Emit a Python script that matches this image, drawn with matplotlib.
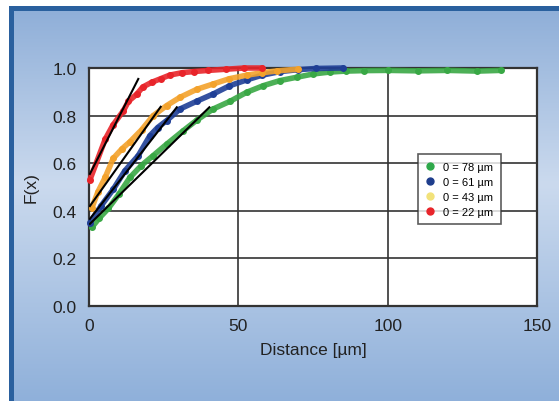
import numpy as np
import matplotlib
matplotlib.use("Agg")
import matplotlib.pyplot as plt
from matplotlib.lines import Line2D
from matplotlib.patches import Rectangle
from matplotlib.colors import LinearSegmentedColormap

plt.rcParams['font.family'] = ['Liberation Sans', 'DejaVu Sans']

# cumulative distributions
d_22 = [0.3, 5.4, 8.0, 11.5, 13.2, 16, 18, 21, 24, 27, 31, 35, 40, 46, 52, 58]
f_22 = [0.53, 0.70, 0.76, 0.82, 0.86, 0.89, 0.92, 0.94, 0.955, 0.97, 0.98, 0.985, 0.99, 0.995, 1.0, 1.0]

d_43 = [0.9, 3, 5.4, 8.1, 11, 13.7, 17.6, 21.5, 26, 30.5, 36, 41.6, 47, 52.8, 58, 63, 70]
f_43 = [0.41, 0.48, 0.54, 0.62, 0.66, 0.69, 0.74, 0.80, 0.842, 0.877, 0.91, 0.933, 0.955, 0.97, 0.98, 0.988, 0.995]

d_61 = [0.3, 4, 8.1, 12, 16.5, 20.4, 23, 26, 30.5, 36, 41.6, 47, 52.8, 58, 64, 70, 76, 85]
f_61 = [0.35, 0.42, 0.49, 0.568, 0.632, 0.716, 0.75, 0.779, 0.828, 0.86, 0.891, 0.925, 0.95, 0.97, 0.985, 0.993, 0.998, 1.0]

d_78 = [0.9, 3.5, 6.5, 10, 13.7, 17.5, 21.5, 26, 31.6, 36, 41.6, 47.2, 52.8, 58.4, 63.9,
        69.5, 75.1, 80.7, 86, 92, 100, 110, 120, 130, 138]
f_78 = [0.33, 0.37, 0.41, 0.47, 0.54, 0.59, 0.632, 0.68, 0.737, 0.78, 0.828, 0.86, 0.898, 0.926, 0.947,
        0.961, 0.975, 0.983, 0.987, 0.989, 0.99, 0.988, 0.99, 0.987, 0.99]

# black tangent lines: (x0, y0, x1, y1)
tangents = [
    (0.3, 0.555, 16.5, 0.954),
    (0.3, 0.42, 24.0, 0.837),
    (0.3, 0.366, 29.4, 0.835),
    (0.3, 0.345, 40.3, 0.835),
]

labels = ["0 = 78 µm", "0 = 61 µm", "0 = 43 µm", "0 = 22 µm"]
legend_colors = ["#2ea84a", "#1e3d8c", "#f2e27a", "#e8242a"]

W, H = 559, 402
fig = plt.figure(figsize=(W / 100, H / 100), dpi=100)
fig.patch.set_facecolor("white")

# background panel with gradient
bg = fig.add_axes([0, 0, 1, 1], zorder=-5)
bg.axis("off")
cmap = LinearSegmentedColormap.from_list("bgc", [(0, "#8eaed8"), (0.45, "#cbdaee"), (1, "#8fb0da")])
grad = np.linspace(0, 1, 256).reshape(-1, 1)
bg.imshow(grad, cmap=cmap, extent=(9, W, H, 7), aspect="auto")
bg.add_patch(Rectangle((9, 7), W - 9, 4.5, color="#2a609e", lw=0))
bg.add_patch(Rectangle((9, 7), 5, H - 7, color="#2a609e", lw=0))
bg.set_xlim(0, W)
bg.set_ylim(H, 0)

ax = fig.add_axes([89 / W, (H - 307) / H, 448 / W, 238 / H])
ax.set_facecolor("white")
ax.set_xlim(0, 150)
ax.set_ylim(0, 1.0)
ax.set_xticks([0, 50, 100, 150])
ax.set_yticks([0, 0.2, 0.4, 0.6, 0.8, 1.0])
ax.set_yticklabels(["0.0", "0.2", "0.4", "0.6", "0.8", "1.0"])
ax.grid(True, color="#333333", lw=1.2)
ax.set_axisbelow(True)
for s in ax.spines.values():
    s.set_color("#333333")
    s.set_linewidth(1.6)
ax.tick_params(length=0, labelsize=12.5, colors="#222222")
ax.tick_params(axis="y", pad=9)
ax.tick_params(axis="x", pad=9)

series = [(d_78, f_78, "#39a845"), (d_61, f_61, "#1f3f96"), (d_43, f_43, "#f3a22c"), (d_22, f_22, "#e8242a")]
for d, f, c in series:
    ax.plot(d, f, color=c, lw=4, alpha=0.9, solid_capstyle="round", zorder=3, clip_on=False)
    ax.plot(d, f, "o", color=c, ms=4, zorder=3, clip_on=False)

for x0, y0, x1, y1 in tangents:
    ax.plot([x0, x1], [y0, y1], color="black", lw=1.5, zorder=4)

handles = [Line2D([], [], ls="none", marker="o", ms=5, color=c) for c in legend_colors]
leg = ax.legend(handles, labels, loc="upper left", bbox_to_anchor=(0.734, 0.639),
                fontsize=8, frameon=True, fancybox=False, handlelength=0.8,
                handletextpad=0.8, borderpad=0.7, labelspacing=0.45, borderaxespad=0)
leg.get_frame().set_edgecolor("#333333")
leg.get_frame().set_linewidth(1.2)

ax.set_xlabel("Distance [µm]", fontsize=12.5, color="#222222", labelpad=6)
ax.set_ylabel("F(x)", fontsize=12.5, color="#222222", labelpad=10)

fig.savefig("out.png", dpi=100)
